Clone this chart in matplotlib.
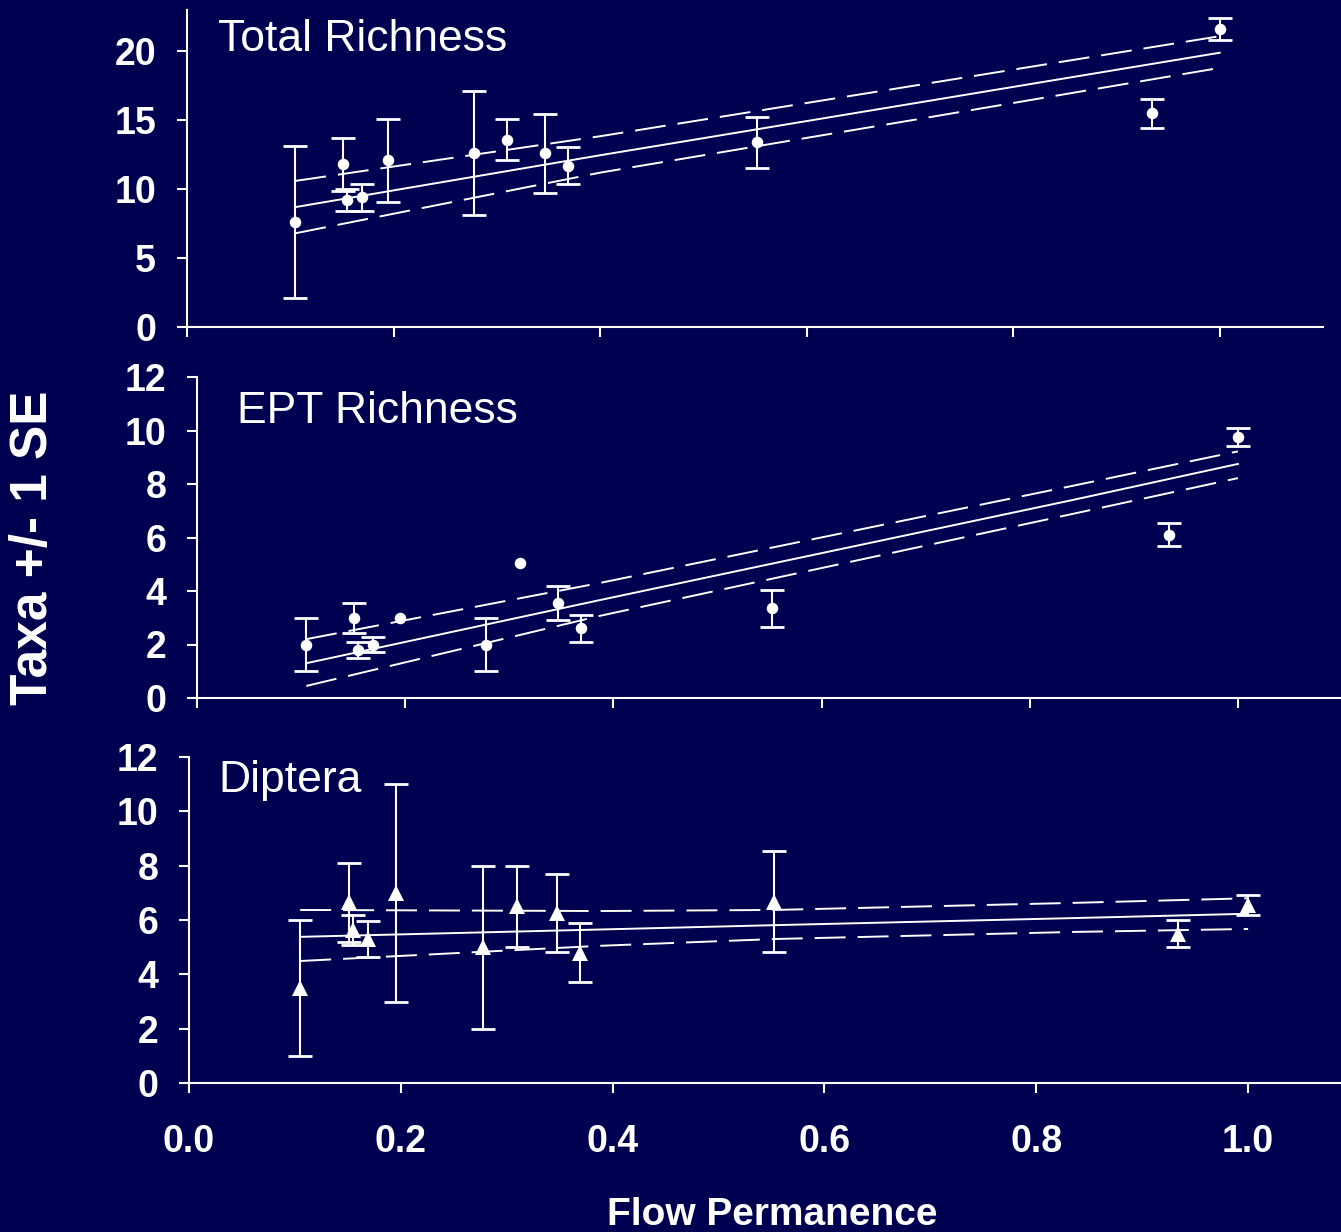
import matplotlib
matplotlib.use("Agg")
import matplotlib.pyplot as plt
import numpy as np

# site flow permanence (shared by all three panels)
flow = [0.105, 0.151, 0.155, 0.169, 0.195, 0.278, 0.310, 0.347, 0.369, 0.552, 0.934, 1.0]

# Total richness: mean taxa and SE
total_mean = [7.6, 11.8, 9.2, 9.4, 12.1, 12.6, 13.6, 12.6, 11.7, 13.4, 15.5, 21.6]
total_se = [5.5, 1.9, 0.8, 1.0, 3.0, 4.5, 1.5, 2.85, 1.35, 1.85, 1.05, 0.8]
total_band_x = [0.105, 0.4, 0.7, 1.0]
total_fit = [8.7, 12.46, 16.18, 19.9]
total_upper = [10.6, 13.84, 17.46, 21.1]
total_lower = [6.8, 11.2, 14.98, 18.8]

# EPT richness (two sites without SE)
ept_mean = [2.0, 3.0, 1.8, 2.0, 3.0, 2.0, 5.05, 3.55, 2.6, 3.35, 6.1, 9.75]
ept_se = [1.0, 0.56, 0.3, 0.27, 0.0, 1.0, 0.0, 0.63, 0.5, 0.68, 0.43, 0.34]
ept_band_x = [0.105, 0.387, 0.841, 1.0]
ept_fit = [1.3, 3.66, 7.4, 8.75]
ept_upper = [2.2, 4.3, 7.93, 9.22]
ept_lower = [0.45, 3.07, 6.88, 8.22]

# Diptera
dip_mean = [3.5, 6.65, 5.63, 5.3, 7.0, 5.0, 6.5, 6.27, 4.8, 6.68, 5.5, 6.55]
dip_se = [2.5, 1.45, 0.55, 0.65, 4.0, 3.0, 1.5, 1.43, 1.1, 1.86, 0.5, 0.38]
dip_band_x = [0.105, 0.388, 0.553, 0.835, 1.0]
dip_fit = [5.38, 5.65, 5.81, 6.07, 6.23]
dip_upper = [6.37, 6.33, 6.37, 6.63, 6.8]
dip_lower = [4.49, 5.05, 5.30, 5.56, 5.67]

BG = "#000050"
FG = "white"
LW = 1.4

plt.rcParams["font.family"] = ["Liberation Sans", "DejaVu Sans"]

fig = plt.figure(figsize=(13.41, 12.32), dpi=100)
fig.patch.set_facecolor(BG)

W, H = 1341, 1232


def add_panel(left, right, bottom, top):
    return fig.add_axes([left / W, 1 - bottom / H, (right - left) / W, (bottom - top) / H])


panels = [
    dict(ax=add_panel(187, 1323, 327, 10), ylim=23, yticks=[0, 5, 10, 15, 20],
         mean=total_mean, se=total_se, marker="o", ms=8.3,
         bx=total_band_x, fit=total_fit, up=total_upper, lo=total_lower,
         title="Total Richness", tx=0.030, ty=20.0),
    dict(ax=add_panel(197, 1342, 698, 377), ylim=12, yticks=range(0, 13, 2),
         mean=ept_mean, se=ept_se, marker="o", ms=8.3,
         bx=ept_band_x, fit=ept_fit, up=ept_upper, lo=ept_lower,
         title="EPT Richness", tx=0.038, ty=10.28),
    dict(ax=add_panel(189, 1354, 1083, 757), ylim=12, yticks=range(0, 13, 2),
         mean=dip_mean, se=dip_se, marker="^", ms=11,
         bx=dip_band_x, fit=dip_fit, up=dip_upper, lo=dip_lower,
         title="Diptera", tx=0.028, ty=10.72),
]

dash = (0, (22.3 / LW, 8.6 / LW))

for i, p in enumerate(panels):
    ax = p["ax"]
    ax.set_facecolor(BG)
    ax.set_xlim(0, 1.1)
    ax.set_ylim(0, p["ylim"])

    # regression line and confidence band
    ax.plot(p["bx"], p["fit"], color=FG, lw=LW, zorder=2)
    ax.plot(p["bx"], p["up"], color=FG, lw=LW, ls=dash, zorder=2)
    ax.plot(p["bx"], p["lo"], color=FG, lw=LW, ls=dash, zorder=2)

    x = np.array(flow)
    m = np.array(p["mean"])
    se = np.array(p["se"])
    has_se = se > 0
    ax.errorbar(x[has_se], m[has_se], yerr=se[has_se], fmt="none", ecolor=FG,
                elinewidth=1.5, capsize=8.3, capthick=2.0, zorder=3)
    ax.plot(x, m, ls="none", marker=p["marker"], ms=p["ms"], color=FG,
            markeredgewidth=0, zorder=4)

    ax.text(p["tx"], p["ty"], p["title"], color=FG, fontsize=32,
            ha="left", va="baseline")

    for side in ("top", "right"):
        ax.spines[side].set_visible(False)
    for side in ("left", "bottom"):
        ax.spines[side].set_color(FG)
        ax.spines[side].set_linewidth(1.5)

    ax.set_yticks(list(p["yticks"]))
    ax.set_xticks([0.0, 0.2, 0.4, 0.6, 0.8, 1.0])
    ax.tick_params(colors=FG, direction="out", length=7.2, width=1.5,
                   labelsize=27, pad=15)
    for lab in ax.get_yticklabels():
        lab.set_fontweight("bold")
    if i < 2:
        ax.tick_params(axis="x", labelbottom=False)
    else:
        ax.set_xticklabels(["0.0", "0.2", "0.4", "0.6", "0.8", "1.0"],
                           fontweight="bold")
        ax.tick_params(axis="x", pad=22)

fig.text(34 / W, 1 - 548 / H, "Taxa +/- 1 SE", rotation=90, color=FG,
         fontsize=37, fontweight="bold", ha="center", va="center")
fig.text(772 / W, 1 - 1215 / H, "Flow Permanence", color=FG,
         fontsize=28, fontweight="bold", ha="center", va="center")

fig.savefig("out.png", dpi=100, facecolor=BG)
